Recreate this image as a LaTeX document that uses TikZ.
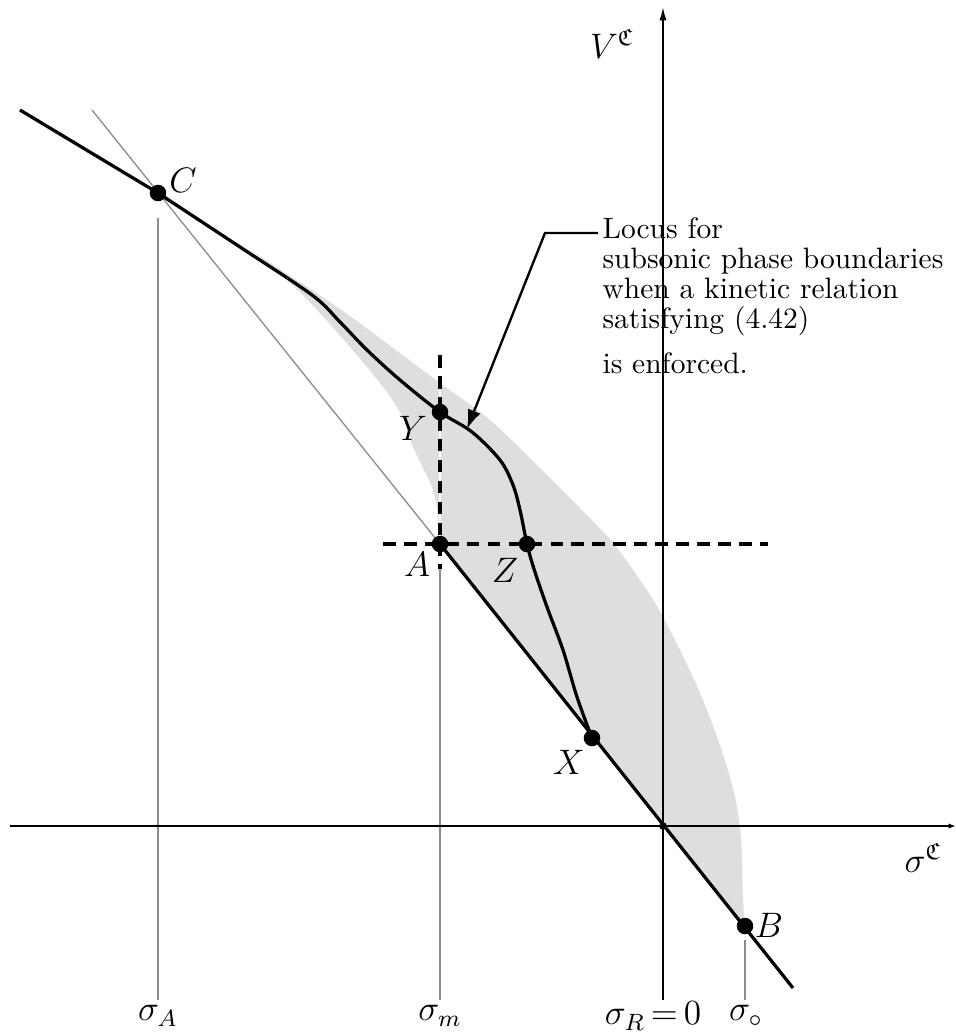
\documentclass[tikz,border=0pt]{standalone}
\usepackage{amsmath,amssymb}
\usetikzlibrary{arrows.meta}
\definecolor{regiongray}{RGB}{221,222,224}
\begin{document}
\begin{tikzpicture}[x=0.339pt,y=-0.339pt,
  thk/.style={line width=1.1pt, line join=round},
  gry/.style={line width=0.45pt, draw=black!45},
  axisln/.style={line width=0.6pt},
  dashln/.style={line width=1.2pt, dash pattern=on 4.3pt off 2.8pt},
  dot/.style={circle, fill=black, inner sep=0pt, minimum size=5.6pt},
  smalldot/.style={circle, fill=black, inner sep=0pt, minimum size=2.6pt},
  lbl/.style={inner sep=0pt, font=\large}]
\useasboundingbox (0,0) rectangle (956,1036);

% points
\coordinate (C) at (158,193);
\coordinate (Y) at (440,412);
\coordinate (A) at (440,544);
\coordinate (Z) at (527,544);
\coordinate (X) at (592,738);
\coordinate (B) at (745,926);
\coordinate (O) at (663,826);
\coordinate (Cstart) at (20,110);
\coordinate (Gstart) at (92,110);
\coordinate (Bend) at (793,988);

% shaded region
\fill[regiongray] plot[smooth, tension=0.6] coordinates {(250,250) (327,300) (373,333) (440,383) (490,420) (540,468) (580,508) (613,543) (640,580) (663,617) (700,693) (727,767) (740,827) (743,900) (745,926)}
  -- (A)
  -- plot[smooth, tension=0.6] coordinates {(440,544) (438,520) (433,490) (413,447) (400,412) (367,367) (300,292) (250,250)} -- cycle;

% thin gray guide lines
\draw[gry] (Gstart) -- (A);
\draw[gry] (158,218) -- (158,1000);
\draw[gry] (440,567) -- (440,1000);
\draw[gry] (745,940) -- (745,1000);
\draw[white, line width=0.5pt] (440,383) -- (440,544);

% axes
\draw[axisln, -{Latex[length=4.5pt,width=2.4pt]}] (663,1000) -- (663,7);
\draw[axisln, -{Latex[length=2.5pt,width=1.8pt]}] (10,826) -- (956,826);
\node[lbl] (Vlab) at (612,44) {$V^{\mathfrak{C}}$};
\node[lbl] (Slab) at (923,858) {$\sigma^{\mathfrak{C}}$};

% dashed lines
\draw[dashln] (383,544) -- (768,544);
\draw[dashln] (440,355) -- (440,569);

% curves
\draw[thk] (Cstart) -- (C) -- plot[smooth, tension=0.55] coordinates {(158,193) (240,247) (312,295) (340,322) (367,350) (400,380) (440,412) (472,432) (500,460) (513,485) (520,510) (527,544) (534,569) (547,607) (563,650) (577,697) (592,738)};
\draw[thk] (A) -- (Bend);

% dots
\node[dot] (Cd) at (C) {};
\node[dot] (Yd) at (Y) {};
\node[dot] (Ad) at (A) {};
\node[dot] (Zd) at (Z) {};
\node[dot] (Xd) at (X) {};
\node[dot] (Bd) at (B) {};
\node[smalldot] (Od) at (O) {};

% point labels
\node[lbl] (Clab) at (183,180) {$C$};
\node[lbl] (Ylab) at (413,428) {$Y$};
\node[lbl] (Alab) at (417,564) {$A$};
\node[lbl] (Zlab) at (505,570) {$Z$};
\node[lbl] (Xlab) at (569,762) {$X$};
\node[lbl] (Blab) at (769,925) {$B$};

% annotation
\node[inner sep=0pt, anchor=north west, align=left, font=\fontsize{10}{10.2}\selectfont] (note) at (602,217)
  {Locus for\\subsonic phase boundaries\\when a kinetic relation\\satisfying (4.42)\\[5pt]is enforced.};
\coordinate (bendpt) at (545,233);
\coordinate (notestart) at (598,233);
\coordinate (tip) at (467,429);
\draw[line width=0.8pt, -{Latex[length=6.5pt,width=4.6pt]}] (notestart) -- (bendpt) -- (tip);

% bottom labels
\node[lbl] (sA) at (158,1016) {$\sigma_A$};
\node[lbl] (sm) at (440,1016) {$\sigma_m$};
\node[lbl] (sR) at (653,1016) {$\sigma_R{\,=\,}0$};
\node[lbl] (so) at (746,1016) {$\sigma_\circ$};
\end{tikzpicture}
\end{document}
